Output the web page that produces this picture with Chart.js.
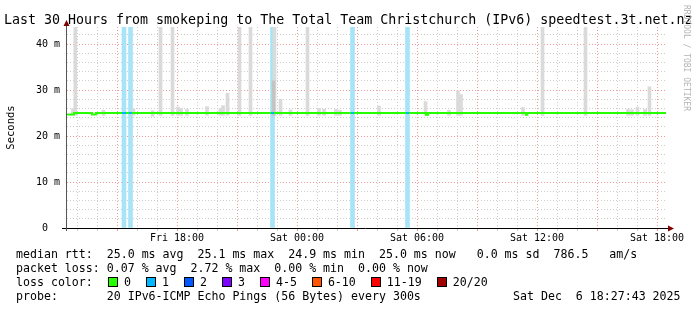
<!DOCTYPE html>
<html>
<head>
<meta charset="utf-8">
<style>
  body { margin: 0; background: #fff; }
  #wrap { position: relative; width: 697px; height: 310px; overflow: hidden; }
  #chart { position: absolute; left: 0; top: 0; }
  .txt { position: absolute; font-family: "DejaVu Sans Mono", monospace; white-space: pre; color: #000; }
  #title { left: 4px; top: 12px; font-size: 13.3px; line-height: 16px; }
  .leg { font-size: 11.6px; line-height: 14px; }
  #losslegend { position: absolute; left: 108px; top: 275px; display: flex; align-items: center; height: 14px; }
  .box { width: 8px; height: 8px; border: 1px solid #000; margin-right: 6px; }
  .lab { font-family: "DejaVu Sans Mono", monospace; font-size: 11.6px; margin-right: 15px; white-space: pre; }
  #rrd { position: absolute; left: 681px; top: 5px; font-family: "DejaVu Sans Mono", monospace; font-size: 8px; line-height: 10px; color: #b4b4b4; writing-mode: vertical-rl; white-space: pre; }
</style>
</head>
<body>
<div id="wrap">
  <canvas id="chart" width="697" height="310"></canvas>
  <div class="txt" id="title">Last 30 Hours from smokeping to The Total Team Christchurch (IPv6) speedtest.3t.net.nz</div>
  <div id="rrd">RRDTOOL / TOBI OETIKER</div>
  <div class="txt leg" style="left:16px;top:247px">median rtt:  25.0 ms avg  25.1 ms max  24.9 ms min  25.0 ms now   0.0 ms sd  786.5   am/s</div>
  <div class="txt leg" style="left:16px;top:261px">packet loss: 0.07 % avg  2.72 % max  0.00 % min  0.00 % now</div>
  <div class="txt leg" style="left:16px;top:275px">loss color:</div>
  <div id="losslegend"></div>
  <div class="txt leg" style="left:16px;top:289px">probe:       20 IPv6-ICMP Echo Pings (56 Bytes) every 300s</div>
  <div class="txt leg" style="left:513px;top:289px">Sat Dec  6 18:27:43 2025</div>
</div>

<script src="https://cdn.jsdelivr.net/npm/chart.js@4/dist/chart.umd.min.js"></script>
<script>
  // x values are hours since Fri 00:00
  const X_MIN = 12.5
  const X_MAX = 42.5
  const Y_MAX = 43.7

  const xTickHours = [18, 24, 30, 36, 42]
  const xTickLabels = ['Fri 18:00', 'Sat 00:00', 'Sat 06:00', 'Sat 12:00', 'Sat 18:00']

  const lossLabels = ['0', '1', '2', '3', '4-5', '6-10', '11-19', '20/20']
  const lossColors = ['#26ff00', '#00b8ff', '#0059ff', '#7e00ff', '#ff00ff', '#ff5500', '#ff0000', '#a10000']

  // median rtt (ms), held until the next time; loss = index into lossColors
  const medianTimes  = [12.5, 12.85, 13.75, 13.95, 15.25, 15.45, 15.6, 15.75, 22.7, 22.85, 26.7, 26.85, 29.45, 29.6, 30.45, 30.55, 35.45, 35.52, 42.45]
  const medianValues = [24.7, 25.0, 24.7, 25.0, 25.0, 25.0, 25.0, 25.0, 25.0, 25.0, 25.0, 25.0, 25.0, 25.0, 24.6, 25.0, 24.6, 25.0, 25.0]
  const medianLoss   = [0, 0, 0, 0, 1, 0, 1, 0, 1, 0, 1, 0, 1, 0, 0, 0, 0, 0, 0]

  // loss background columns
  const lossTimes = [15.35, 15.675, 22.775, 26.775, 29.525]

  // smoke (min..max of the pings)
  const smokeTimes = [12.8, 12.915, 14.325, 15.825, 16.775, 17.175, 17.775, 18.05, 18.2, 18.5, 19.5, 20.175, 20.3, 20.525, 21.125, 21.675,
                      22.875, 23.175, 23.675, 24.525, 25.1, 25.35, 25.95, 26.15, 28.1, 30.425, 31.6, 32.05, 32.2, 35.3, 36.275, 38.425,
                      40.55, 40.75, 41.025, 41.4, 41.625]
  const smokeLow   = [24.5, 24.5, 24.5, 24.5, 24.3, 24.5, 24.5, 24.5, 24.5, 24.5, 24.5, 24.5, 24.5, 24.5, 24.5, 24.5,
                      24.5, 24.5, 24.5, 24.5, 24.5, 24.5, 24.5, 24.5, 24.5, 24.5, 24.5, 24.5, 24.5, 24.5, 24.5, 24.5,
                      24.5, 24.5, 24.5, 24.5, 24.5]
  const smokeHigh  = [25.9, 60, 25.6, 25.9, 25.5, 60, 60, 26.3, 26.0, 25.8, 26.4, 26.0, 26.6, 29.3, 60, 60,
                      60, 28.0, 25.7, 60, 26.0, 25.8, 25.8, 25.6, 26.5, 27.5, 25.6, 29.8, 29.0, 26.2, 60, 60,
                      25.8, 25.7, 26.3, 25.8, 30.7]
  const darkSmokeTimes = [22.825]
  const darkSmokeHigh  = [32.0]

  // legend boxes
  const legendEl = document.getElementById('losslegend')
  lossLabels.forEach((label, i) => {
    const box = document.createElement('span')
    box.className = 'box'
    box.style.background = lossColors[i]
    const lab = document.createElement('span')
    lab.className = 'lab'
    lab.textContent = label
    legendEl.appendChild(box)
    legendEl.appendChild(lab)
  })

  // axis lines with arrows, drawn over the data like rrdtool does
  const axesPlugin = {
    id: 'rrdAxes',
    afterDatasetsDraw(chart) {
      const { ctx, chartArea: a } = chart
      ctx.save()
      ctx.lineWidth = 1
      ctx.strokeStyle = '#000'
      ctx.beginPath()
      ctx.moveTo(a.left - 5, a.bottom + 0.5)
      ctx.lineTo(a.right + 2, a.bottom + 0.5)
      ctx.stroke()
      ctx.strokeStyle = '#555'
      ctx.beginPath()
      ctx.moveTo(a.left - 0.5, a.bottom + 3)
      ctx.lineTo(a.left - 0.5, a.top - 2)
      ctx.stroke()
      ctx.fillStyle = '#7f0000'
      ctx.beginPath()
      ctx.moveTo(a.left - 3.5, a.top - 1)
      ctx.lineTo(a.left + 2.5, a.top - 1)
      ctx.lineTo(a.left - 0.5, a.top - 7)
      ctx.closePath()
      ctx.fill()
      ctx.beginPath()
      ctx.moveTo(a.right + 1, a.bottom - 2.5)
      ctx.lineTo(a.right + 1, a.bottom + 3.5)
      ctx.lineTo(a.right + 7, a.bottom + 0.5)
      ctx.closePath()
      ctx.fill()
      ctx.restore()
    }
  }

  // one grid line per hour, one per 2 ms
  const hourTicks = s => {
    const t = []
    for (let h = Math.ceil(X_MIN); h <= X_MAX; h++) t.push({ value: h })
    s.ticks = t
  }
  const msTicks = s => {
    const t = []
    for (let v = 0; v <= Y_MAX; v += 2) t.push({ value: v })
    s.ticks = t
  }

  Chart.defaults.font.family = 'DejaVu Sans Mono'
  Chart.defaults.color = '#000'

  const redGrid = '#f29a9a'
  const grayGrid = '#cdcdcd'

  new Chart(document.getElementById('chart'), {
    type: 'bar',
    data: {
      datasets: [
        {
          type: 'line',
          data: medianTimes.map((t, i) => ({ x: t, y: medianValues[i] })),
          borderColor: lossColors[0],
          borderWidth: 2,
          pointRadius: 0,
          stepped: true,
          segment: { borderColor: c => lossColors[medianLoss[c.p0DataIndex]] },
          order: 0
        },
        {
          data: darkSmokeTimes.map((t, i) => ({ x: t, y: [smokeLow[0], darkSmokeHigh[i]] })),
          backgroundColor: '#c4c4c4',
          barThickness: 3,
          grouped: false,
          order: 1
        },
        {
          data: smokeTimes.map((t, i) => ({ x: t, y: [smokeLow[i], smokeHigh[i]] })),
          backgroundColor: '#dadada',
          barThickness: 3,
          grouped: false,
          order: 2
        },
        {
          data: lossTimes.map(t => ({ x: t, y: [0, Y_MAX] })),
          backgroundColor: '#a8e4f8',
          barThickness: 4,
          grouped: false,
          order: 3
        }
      ]
    },
    options: {
      responsive: false,
      animation: false,
      devicePixelRatio: 1,
      layout: { padding: { top: 27, right: 30, left: 0, bottom: 0 } },
      plugins: { legend: { display: false }, tooltip: { enabled: false } },
      scales: {
        x: {
          type: 'linear',
          min: X_MIN,
          max: X_MAX,
          offset: false,
          afterFit: s => { s.height = 82 },
          afterBuildTicks: hourTicks,
          ticks: {
            autoSkip: false,
            maxRotation: 0,
            minRotation: 0,
            padding: 1,
            font: { size: 10 },
            callback: v => {
              const i = xTickHours.indexOf(Math.round(v))
              return i >= 0 ? xTickLabels[i] : ''
            }
          },
          grid: {
            offset: false,
            drawTicks: true,
            tickLength: 3,
            color: c => (c.tick && Math.round(c.tick.value) % 3 === 0) ? redGrid : grayGrid
          },
          border: { display: false, dash: [1, 2] }
        },
        y: {
          min: 0,
          max: Y_MAX,
          afterFit: s => { s.width = 67 },
          afterBuildTicks: msTicks,
          ticks: {
            autoSkip: false,
            padding: 7,
            font: { size: 10 },
            callback: v => v === 0 ? '0  ' : (v % 10 === 0 ? v + ' m' : '')
          },
          grid: {
            drawTicks: false,
            color: c => (c.tick && c.tick.value % 10 === 0) ? redGrid : grayGrid
          },
          border: { display: false, dash: [1, 2] },
          title: { display: true, text: 'Seconds', font: { size: 10.5 }, padding: { top: 5, bottom: 0 } }
        }
      }
    },
    plugins: [axesPlugin]
  })
</script>
</body>
</html>
